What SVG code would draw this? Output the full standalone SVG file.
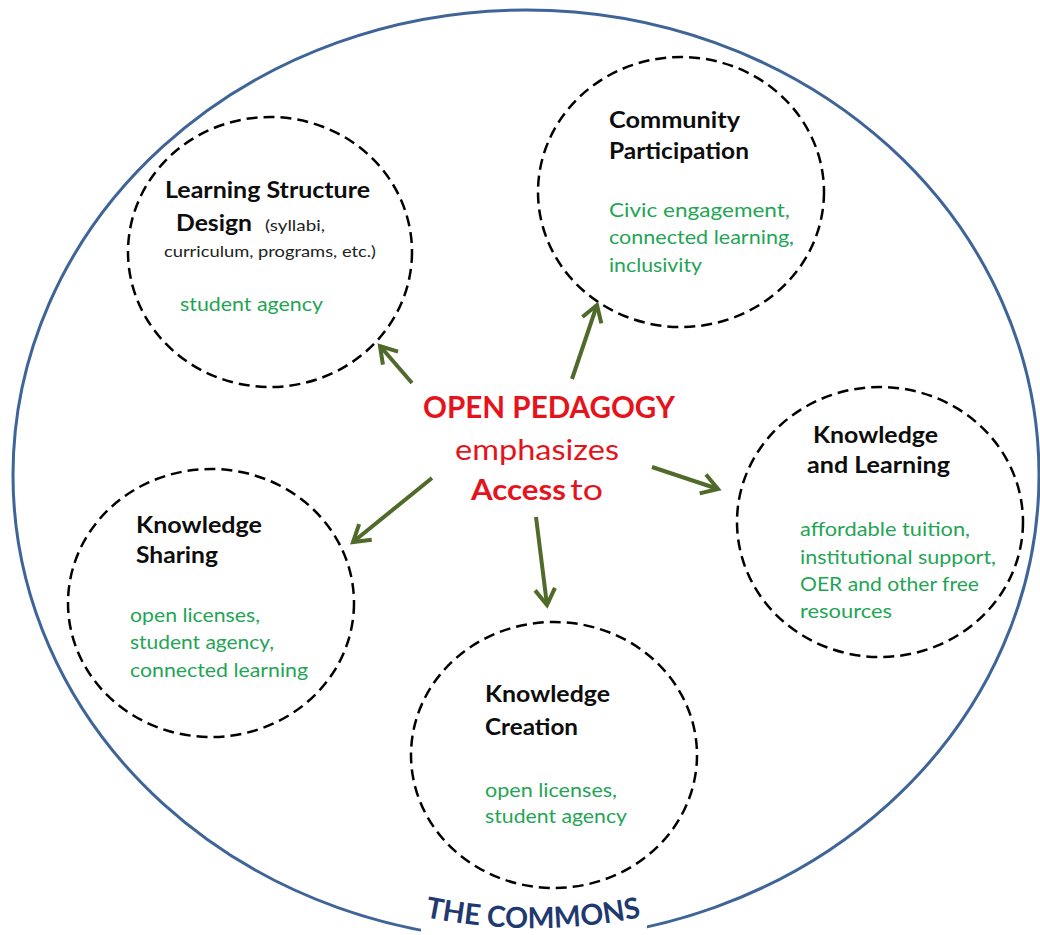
<svg xmlns="http://www.w3.org/2000/svg" width="1040" height="935" viewBox="0 0 1040 935">
<style>
text{font-family:Lato,"Open Sans","Liberation Sans",sans-serif}
.node{fill:none;stroke:#000;stroke-width:2.5;stroke-dasharray:11 6}
.t{font-weight:700;fill:#0d0d0d;font-size:22px}
.g{fill:#1fa555;font-size:20px}
.s{fill:#222;font-size:15px}
.red{fill:#e5141c}
.arrow{stroke:#4f6a2a;stroke-width:4;fill:none;marker-end:url(#ah)}
</style>
<defs>
<marker id="ah" viewBox="0 0 20 20" refX="18" refY="10" markerWidth="20" markerHeight="20" markerUnits="userSpaceOnUse" orient="auto" overflow="visible">
<path d="M2 0 L18 10 L2 20" fill="none" stroke="#4f6a2a" stroke-width="4"/>
</marker>
<path id="commonsArc" d="M400 911.4 A540 540 0 0 0 666 911.4"/>
</defs>
<rect width="1040" height="935" fill="#fff"/>
<g id="commons">
<ellipse cx="526" cy="475" rx="513" ry="465" fill="none" stroke="#3f6598" stroke-width="3"/>
<rect x="421" y="895" width="226" height="40" fill="#fff"/>
<text font-size="29" font-weight="700" fill="#1f3a70"><textPath href="#commonsArc" startOffset="50%" text-anchor="middle" textLength="218" lengthAdjust="spacingAndGlyphs">THE COMMONS</textPath></text>
</g>
<g id="learning-structure-design">
<ellipse class="node" cx="270" cy="252" rx="142" ry="135"/>
<text class="t" x="165" y="198" font-size="21" textLength="205" lengthAdjust="spacingAndGlyphs">Learning Structure</text>
<text class="t" x="176" y="231" font-size="21" textLength="76" lengthAdjust="spacingAndGlyphs">Design</text>
<text class="s" x="265" y="231" textLength="60" lengthAdjust="spacingAndGlyphs">(syllabi,</text>
<text class="s" x="164" y="257" textLength="212" lengthAdjust="spacingAndGlyphs">curriculum, programs, etc.)</text>
<text class="g" x="180" y="311" textLength="143" lengthAdjust="spacingAndGlyphs">student agency</text>
</g>
<g id="community-participation">
<ellipse class="node" cx="681" cy="192" rx="143" ry="135"/>
<text class="t" x="609" y="128" textLength="131" lengthAdjust="spacingAndGlyphs">Community</text>
<text class="t" x="609" y="159" textLength="140" lengthAdjust="spacingAndGlyphs">Participation</text>
<text class="g" x="609" y="217" textLength="181" lengthAdjust="spacingAndGlyphs">Civic engagement,</text>
<text class="g" x="609" y="244" textLength="185" lengthAdjust="spacingAndGlyphs">connected learning,</text>
<text class="g" x="609" y="272" textLength="93" lengthAdjust="spacingAndGlyphs">inclusivity</text>
</g>
<g id="knowledge-and-learning">
<ellipse class="node" cx="880" cy="522" rx="143" ry="135"/>
<text class="t" x="813" y="443" textLength="125" lengthAdjust="spacingAndGlyphs">Knowledge</text>
<text class="t" x="807" y="473" textLength="143" lengthAdjust="spacingAndGlyphs">and Learning</text>
<text class="g" x="800" y="536" textLength="170" lengthAdjust="spacingAndGlyphs">affordable tuition,</text>
<text class="g" x="800" y="564" textLength="196" lengthAdjust="spacingAndGlyphs">institutional support,</text>
<text class="g" x="800" y="591" textLength="179" lengthAdjust="spacingAndGlyphs">OER and other free</text>
<text class="g" x="800" y="618" textLength="92" lengthAdjust="spacingAndGlyphs">resources</text>
</g>
<g id="knowledge-sharing">
<ellipse class="node" cx="211" cy="603" rx="143" ry="134"/>
<text class="t" x="136" y="533" textLength="126" lengthAdjust="spacingAndGlyphs">Knowledge</text>
<text class="t" x="136" y="563" textLength="82" lengthAdjust="spacingAndGlyphs">Sharing</text>
<text class="g" x="130" y="622" textLength="130" lengthAdjust="spacingAndGlyphs">open licenses,</text>
<text class="g" x="130" y="649" textLength="144" lengthAdjust="spacingAndGlyphs">student agency,</text>
<text class="g" x="130" y="677" textLength="178" lengthAdjust="spacingAndGlyphs">connected learning</text>
</g>
<g id="knowledge-creation">
<ellipse class="node" cx="554" cy="755" rx="143" ry="133"/>
<text class="t" x="485" y="702" textLength="125" lengthAdjust="spacingAndGlyphs">Knowledge</text>
<text class="t" x="485" y="735" textLength="93" lengthAdjust="spacingAndGlyphs">Creation</text>
<text class="g" x="485" y="797" textLength="132" lengthAdjust="spacingAndGlyphs">open licenses,</text>
<text class="g" x="485" y="823" textLength="142" lengthAdjust="spacingAndGlyphs">student agency</text>
</g>
<g id="open-pedagogy">
<text class="red" x="423" y="418" font-size="30" font-weight="700" textLength="252" lengthAdjust="spacingAndGlyphs">OPEN PEDAGOGY</text>
<text class="red" x="455" y="460" font-size="29" textLength="164" lengthAdjust="spacingAndGlyphs">emphasizes</text>
<text class="red" x="471" y="500" font-size="28" font-weight="700" textLength="95" lengthAdjust="spacingAndGlyphs">Access</text>
<text class="red" x="570" y="500" font-size="28" textLength="33" lengthAdjust="spacingAndGlyphs">to</text>
</g>
<g id="connectors">
<line class="arrow" x1="412" y1="383" x2="380" y2="346"/>
<line class="arrow" x1="572" y1="379" x2="597" y2="305"/>
<line class="arrow" x1="652" y1="467" x2="718" y2="489"/>
<line class="arrow" x1="432" y1="478" x2="353" y2="542"/>
<line class="arrow" x1="536" y1="517" x2="547" y2="605"/>
</g>
</svg>
